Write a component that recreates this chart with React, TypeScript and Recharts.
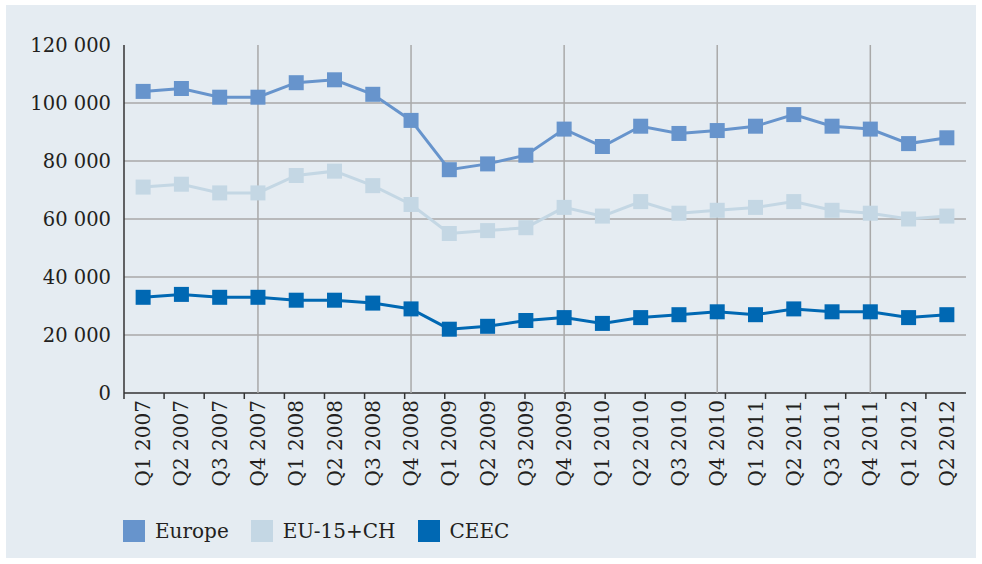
import { LineChart, Line, XAxis, YAxis, ReferenceLine } from "recharts";

const quarters = [
  "Q1 2007", "Q2 2007", "Q3 2007", "Q4 2007",
  "Q1 2008", "Q2 2008", "Q3 2008", "Q4 2008",
  "Q1 2009", "Q2 2009", "Q3 2009", "Q4 2009",
  "Q1 2010", "Q2 2010", "Q3 2010", "Q4 2010",
  "Q1 2011", "Q2 2011", "Q3 2011", "Q4 2011",
  "Q1 2012", "Q2 2012",
];

const europe = [
  104000, 105000, 102000, 102000, 107000, 108000, 103000, 94000,
  77000, 79000, 82000, 91000, 85000, 92000, 89500, 90500,
  92000, 96000, 92000, 91000, 86000, 88000,
];
const eu15ch = [
  71000, 72000, 69000, 69000, 75000, 76500, 71500, 65000,
  55000, 56000, 57000, 64000, 61000, 66000, 62000, 63000,
  64000, 66000, 63000, 62000, 60000, 61000,
];
const ceec = [
  33000, 34000, 33000, 33000, 32000, 32000, 31000, 29000,
  22000, 23000, 25000, 26000, 24000, 26000, 27000, 28000,
  27000, 29000, 28000, 28000, 26000, 27000,
];

const yTicks = [0, 20000, 40000, 60000, 80000, 100000, 120000];
const gridValues = [20000, 40000, 60000, 80000, 100000];
const gridQuarters = ["Q4 2007", "Q4 2008", "Q4 2009", "Q4 2010", "Q4 2011"];
const edgeTicks = quarters.map((_, i) => i).concat(quarters.length);

const SERIES = [
  { key: "europe", name: "Europe", color: "#6794cc" },
  { key: "eu15ch", name: "EU-15+CH", color: "#c4d7e4" },
  { key: "ceec", name: "CEEC", color: "#0068b3" },
];

const FONT = "'DejaVu Serif', serif";
const TEXT = "#231f20";
const GRID = "#a9a9a9";

const data = quarters.map((q, i) => ({
  quarter: q,
  europe: europe[i],
  eu15ch: eu15ch[i],
  ceec: ceec[i],
}));

const fmt = (v: number) =>
  v >= 1000 ? `${Math.floor(v / 1000)} ${String(v % 1000).padStart(3, "0")}` : String(v);

const QuarterTick = ({ x, y, payload }: any) => (
  <text
    x={x}
    y={y}
    transform={`rotate(-90, ${x}, ${y})`}
    textAnchor="end"
    dominantBaseline="central"
    fontSize={20}
    fontFamily={FONT}
    fill={TEXT}
  >
    {payload.value}
  </text>
);

// boundary axis only shows its little tick lines
const NoLabel = () => <g />;

const squareDot = (color: string) => (props: any) => {
  const { cx, cy, index } = props;
  return <rect key={index} x={cx - 7.5} y={cy - 7.5} width={15} height={15} fill={color} />;
};

const App = () => {
  return (
    <div style={{ position: "absolute", left: 0, top: 0, width: 982, height: 564, background: "#fff" }}>
      <div
        style={{ position: "absolute", left: 6, top: 5, width: 970, height: 553, background: "#e5ecf2" }}
      />
      <div style={{ position: "absolute", left: 0, top: 0 }}>
        <LineChart
          width={982}
          height={564}
          data={data}
          margin={{ top: 45, right: 16, bottom: 61, left: 8 }}
        >
          <XAxis
            xAxisId="bounds"
            type="number"
            domain={[0, quarters.length]}
            ticks={edgeTicks}
            tick={<NoLabel />}
            axisLine={false}
            tickLine={{ stroke: "#333", strokeWidth: 1.5 }}
            tickSize={6}
            height={6}
          />
          <XAxis
            xAxisId="quarters"
            dataKey="quarter"
            scale="band"
            interval={0}
            tick={<QuarterTick />}
            tickLine={false}
            tickSize={0}
            tickMargin={1}
            axisLine={false}
            height={104}
          />
          <YAxis
            domain={[0, 120000]}
            ticks={yTicks}
            tickFormatter={fmt}
            tickLine={false}
            tickSize={0}
            tickMargin={13}
            axisLine={{ stroke: "#333", strokeWidth: 1.5 }}
            tick={{ fontSize: 19.5, fontFamily: FONT, fill: TEXT }}
            width={116}
          />
          {gridValues.map((v) => (
            <ReferenceLine key={v} y={v} xAxisId="quarters" stroke={GRID} strokeWidth={1.5} />
          ))}
          <ReferenceLine y={0} xAxisId="quarters" stroke="#333" strokeWidth={1.5} />
          {gridQuarters.map((q) => (
            <ReferenceLine key={q} x={q} xAxisId="quarters" stroke={GRID} strokeWidth={1.5} />
          ))}
          {SERIES.map((s) => (
            <Line
              key={s.key}
              xAxisId="quarters"
              dataKey={s.key}
              name={s.name}
              stroke={s.color}
              strokeWidth={3}
              dot={squareDot(s.color)}
              activeDot={false}
              isAnimationActive={false}
            />
          ))}
        </LineChart>
      </div>
      <div
        style={{
          position: "absolute",
          left: 123,
          top: 519,
          display: "flex",
          alignItems: "center",
          fontFamily: FONT,
          fontSize: 20,
          color: TEXT,
        }}
      >
        {SERIES.map((s) => (
          <div key={s.key} style={{ display: "flex", alignItems: "center", marginRight: 22 }}>
            <div style={{ width: 22, height: 22, background: s.color, marginRight: 10 }} />
            <span>{s.name}</span>
          </div>
        ))}
      </div>
    </div>
  );
};

export default App;
